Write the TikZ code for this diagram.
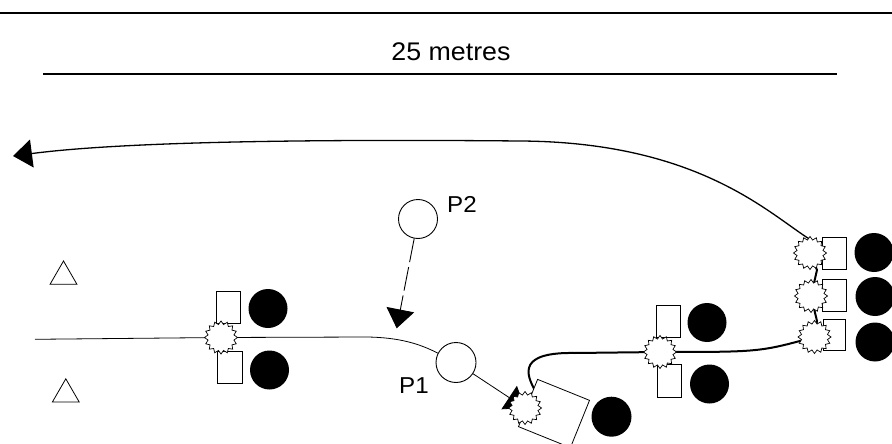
\documentclass[tikz,border=0pt]{standalone}
\usepackage{fontspec}
\setmainfont{Liberation Sans}
\usetikzlibrary{shapes.geometric,arrows.meta}
\pgfdeclarelayer{bg}
\pgfsetlayers{bg,main}
\begin{document}
\begin{tikzpicture}[x=1pt,y=-1pt,
  burst/.style={star, star points=16, star point ratio=1.25, minimum size=33pt, inner sep=0pt, draw, fill=white, line width=0.7pt},
  box/.style={rectangle, draw, fill=white, line width=0.8pt, minimum width=24pt, minimum height=32pt, inner sep=0pt},
  dot/.style={circle, fill=black, minimum size=39pt, inner sep=0pt},
  ring/.style={circle, draw, fill=white, line width=0.9pt, minimum size=39pt, inner sep=0pt},
  tri/.style={regular polygon, regular polygon sides=3, draw, line width=0.8pt, minimum size=31pt, inner sep=0pt},
  lbl/.style={inner sep=0pt, xscale=1.05},
  tip/.style={-{Triangle[length=19pt,width=28pt]}},
  rule/.style={line width=2.5pt}
]
\useasboundingbox (0,0) rectangle (892,444);

% rulers
\coordinate (r1a) at (0,13);
\coordinate (r1b) at (892,13);
\coordinate (r2a) at (43,74);
\coordinate (r2b) at (837,74);
\draw[rule] (r1a) -- (r1b);
\draw[rule] (r2a) -- (r2b);
\node[lbl, font=\fontsize{25.5}{30}\selectfont, anchor=base] (dist) at (451,61) {25 metres};

% triangles
\node[tri] (t1) at (63.5,276.5) {};
\node[tri] (t2) at (65.8,394.3) {};

% left cluster
\node[box] (bL1) at (228,307) {};
\node[box, minimum width=25pt] (bL2) at (230,367) {};
\node[dot] (dL1) at (268,308.5) {};
\node[dot] (dL2) at (269.5,370) {};
\node[burst] (SL) at (221,337.5) {};

% middle cluster
\node[box] (bM1) at (668,321) {};
\node[box, minimum height=33pt] (bM2) at (669.5,380.5) {};
\node[dot] (dM1) at (707,322.5) {};
\node[dot] (dM2) at (709.5,384) {};
\node[burst] (SM) at (660,352) {};

% right cluster
\node[box] (bR1) at (834,253) {};
\node[box] (bR2) at (834,295) {};
\node[box, minimum width=22pt, minimum height=31pt] (bR3) at (834.5,335) {};
\node[dot] (dR1) at (874,252.5) {};
\node[dot] (dR2) at (875,296.5) {};
\node[dot] (dR3) at (875,342) {};
\node[burst] (SR1) at (810,253) {};
\node[burst] (SR2) at (811,296) {};
\node[burst] (SR3) at (814.5,337) {};

% players
\node[ring] (P2) at (418,219) {};
\node[lbl, font=\fontsize{23}{27}\selectfont, anchor=base west] (P2l) at (447,212) {P2};
\node[ring, minimum size=40pt] (P1) at (456,362.5) {};
\node[lbl, font=\fontsize{23}{27}\selectfont, anchor=base west] (P1l) at (399,393.5) {P1};

% tilted station
\node[box, minimum width=56pt, minimum height=51pt, rotate=-22] (bT) at (554,413.5) {};
\node[dot, minimum size=40pt] (dT) at (611.5,416.7) {};
\node[burst] (SP1) at (525,408) {};

\coordinate (lstart) at (35,339.3);
\coordinate (p2tip) at (396.7,328.3);
\coordinate (ltip) at (13,156);

\begin{pgfonlayer}{bg}
\draw[line width=0.8pt] (lstart) -- (SL.center) -- (367,337) .. controls (400,337.5) and (420,344) .. (P1);
\draw[line width=0.8pt, tip] (P1) -- (SP1.center);
\draw[line width=0.9pt, dash pattern=on 24pt off 5pt, tip] (P2) -- (p2tip);
\draw[line width=2pt] (SP1.center) -- (536,392) .. controls (524,372) and (520,352) .. (575,353) -- (SM.center) .. controls (760,352) .. (SR3.center) -- (817,321) -- (SR2.center) -- (817,270) -- (SR1.center);
\draw[line width=1.3pt, tip] (SR1.center) -- (811,240) .. controls (770,215) and (700,142) .. (520,141) .. controls (300,139) and (120,142) .. (ltip);
\end{pgfonlayer}
\end{tikzpicture}
\end{document}
